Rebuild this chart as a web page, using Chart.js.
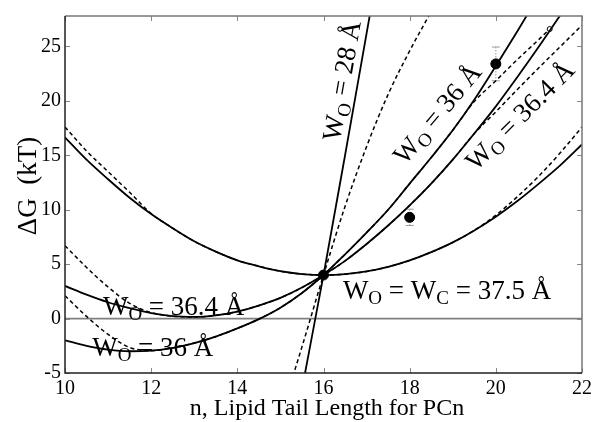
<!DOCTYPE html>
<html lang="en">
<head>
<meta charset="UTF-8">
<title>Free energy vs lipid tail length</title>
<script src="https://cdn.jsdelivr.net/npm/chart.js"></script>
<style>
    body { margin: 0; background: #fff; }
    #wrap { width: 597px; height: 422px; }
</style>
</head>
<body>
<div id="wrap"><canvas id="chart" width="597" height="422"></canvas></div>
<script>
// tail length grid (n) shared by most curves
const xFull = [10, 10.5, 11, 11.5, 12, 12.5, 13, 13.5, 14, 14.5, 15, 15.5, 16, 16.5, 17, 17.5, 18, 18.5, 19, 19.5, 20, 20.5, 21, 21.5, 22];

// W_O = W_C = 37.5 A
const wc375Solid = [16.65, 14.6, 12.8, 11.1, 9.6, 8.3, 7.1, 6.15, 5.35, 4.8, 4.35, 4.09, 4.0, 4.08, 4.33, 4.75, 5.34, 6.1, 7.0, 8.1, 9.36, 10.8, 12.4, 14.1, 16.0];
const wc375Dash  = [17.6, 15.4, 13.5, 11.6, 9.65, 8.3, 7.1, 6.15, 5.35, 4.8, 4.35, 4.09, 4.0, 4.08, 4.33, 4.75, 5.34, 6.1, 7.0, 8.1, 9.5, 11.2, 13.1, 15.25, 17.6];

// W_O = 36.4 A
const wo364Solid = [3.0, 2.2, 1.5, 0.95, 0.5, 0.22, 0.15, 0.3, 0.65, 1.2, 1.9, 2.85, 4.0, 5.3, 6.85, 8.55, 10.4, 12.4, 14.6, 17.0, 19.5, 22.2, 25.0, 27.9, 30.8];
const wo364Dash  = [6.7, 4.7, 2.9, 1.4, 0.55, 0.22, 0.15, 0.3, 0.65, 1.2, 1.9, 2.85, 4.0, 5.3, 6.85, 8.55, 10.4, 12.4, 14.6, 17.0, 19.0, 21.05, 23.05, 25.0, 26.95];

// W_O = 36 A
const wo36Solid = [-2.0, -2.5, -2.85, -3.0, -2.95, -2.7, -2.25, -1.65, -0.9, -0.05, 1.0, 2.35, 4.0, 5.9, 7.9, 10.0, 12.4, 14.8, 17.3, 20.1, 23.2, 26.4, 29.7, 33.0, 36.3];
const xWo36Dash = [10, 10.5, 11, 11.5, 12, 12.5, 13, 13.5, 14, 14.5, 15, 15.5, 16, 16.5, 17, 17.5, 18, 18.5, 19, 19.5, 20, 20.5, 21, 21.25];
const wo36Dash  = [2.1, 0.2, -1.45, -2.65, -2.95, -2.7, -2.25, -1.65, -0.9, -0.05, 1.0, 2.35, 4.0, 5.9, 7.9, 10.0, 12.4, 14.8, 17.3, 19.95, 21.85, 23.8, 25.65, 26.6];

// W_O = 28 A
const xWo28 = [15.5, 16, 16.5, 17, 17.5];
const wo28Solid = [-6.5, 4.0, 15.0, 26.2, 37.4];
const xWo28Dash = [15, 15.5, 16, 16.5, 17, 17.5, 18, 18.5];
const wo28Dash  = [-9.0, -2.6, 4.0, 10.3, 15.8, 20.6, 24.6, 28.2];

// measured points
const expN   = [16, 18, 20];
const expG   = [4.0, 9.3, 23.4];
const expErr = [0, 0.75, 1.55];

const xTicks = [10, 12, 14, 16, 18, 20, 22];
const yTicks = [-5, 0, 5, 10, 15, 20, 25];

const SERIF = '"Liberation Serif", "Times New Roman", serif';

// curve labels: anchor (data coords of the W baseline start), rotation in degrees
const labelDefs = [
    { at: [16.45, 1.84],  angle: 0,   parts: [['W'], ['O', 1], [' = W'], ['C', 1], [' = 37.5 Å']] },
    { at: [10.88, 0.36],  angle: 0,   parts: [['W'], ['O', 1], [' = 36.4 Å']] },
    { at: [10.63, -3.41], angle: 0,   parts: [['W'], ['O', 1], [' = 36 Å']] },
    { at: [16.38, 16.23], angle: -80, parts: [['W'], ['O', 1], [' = 28 Å']] },
    { at: [17.89, 14.05], angle: -50, parts: [['W'], ['O', 1], [' = 36 Å']] },
    { at: [19.54, 13.5],  angle: -45, parts: [['W'], ['O', 1], [' = 36.4 Å']] }
];

function curve(xs, ys, dashed, extra) {
    return Object.assign({
        data: xs.map((x, i) => ({ x: x, y: ys[i] })),
        showLine: true,
        borderColor: '#000',
        borderWidth: dashed ? 1.5 : 1.8,
        borderDash: dashed ? [4, 3] : [],
        pointRadius: 0,
        cubicInterpolationMode: 'monotone',
        fill: false
    }, extra || {});
}

const decorations = {
    id: 'decorations',
    beforeDatasetsDraw(chart) {
        const ctx = chart.ctx, a = chart.chartArea;
        const xs = chart.scales.x, ys = chart.scales.y;
        ctx.save();
        // zero line
        ctx.strokeStyle = '#808080';
        ctx.lineWidth = 1.8;
        ctx.beginPath();
        ctx.moveTo(a.left, ys.getPixelForValue(0));
        ctx.lineTo(a.right, ys.getPixelForValue(0));
        ctx.stroke();
        // error bars
        ctx.strokeStyle = '#999';
        ctx.lineWidth = 1;
        expN.forEach((n, i) => {
            if (!expErr[i]) return;
            const px = xs.getPixelForValue(n);
            const top = ys.getPixelForValue(expG[i] + expErr[i]);
            const bot = ys.getPixelForValue(expG[i] - expErr[i]);
            ctx.setLineDash([1.5, 1.5]);
            ctx.beginPath(); ctx.moveTo(px, top); ctx.lineTo(px, bot); ctx.stroke();
            ctx.setLineDash([]);
            ctx.beginPath();
            ctx.moveTo(px - 4, top); ctx.lineTo(px + 4, top);
            ctx.moveTo(px - 4, bot); ctx.lineTo(px + 4, bot);
            ctx.stroke();
        });
        ctx.restore();
    },
    afterDatasetsDraw(chart) {
        const ctx = chart.ctx, a = chart.chartArea;
        const xs = chart.scales.x, ys = chart.scales.y;
        ctx.save();
        // inner ticks
        ctx.strokeStyle = '#888';
        ctx.lineWidth = 1;
        ctx.beginPath();
        xTicks.forEach(v => {
            const p = Math.round(xs.getPixelForValue(v)) + 0.5;
            ctx.moveTo(p, a.bottom); ctx.lineTo(p, a.bottom - 5);
            ctx.moveTo(p, a.top); ctx.lineTo(p, a.top + 5);
        });
        yTicks.forEach(v => {
            const p = Math.round(ys.getPixelForValue(v)) + 0.5;
            ctx.moveTo(a.left, p); ctx.lineTo(a.left + 5, p);
            ctx.moveTo(a.right, p); ctx.lineTo(a.right - 5, p);
        });
        ctx.stroke();
        // box
        ctx.lineWidth = 1.5;
        ctx.strokeStyle = '#777';
        ctx.beginPath();
        ctx.moveTo(a.left, a.top); ctx.lineTo(a.right, a.top); ctx.lineTo(a.right, a.bottom);
        ctx.stroke();
        ctx.strokeStyle = '#222';
        ctx.beginPath();
        ctx.moveTo(a.left, a.top); ctx.lineTo(a.left, a.bottom); ctx.lineTo(a.right, a.bottom);
        ctx.stroke();

        // curve labels
        ctx.fillStyle = '#000';
        ctx.textBaseline = 'alphabetic';
        ctx.textAlign = 'left';
        labelDefs.forEach(l => {
            ctx.save();
            ctx.translate(xs.getPixelForValue(l.at[0]), ys.getPixelForValue(l.at[1]));
            ctx.rotate(l.angle * Math.PI / 180);
            let cx = 0;
            l.parts.forEach(p => {
                ctx.font = (p[1] ? 19 : 27) + 'px ' + SERIF;
                ctx.fillText(p[0], cx, p[1] ? 5 : 0);
                cx += ctx.measureText(p[0]).width;
            });
            ctx.restore();
        });

        // axis titles
        ctx.font = '27px ' + SERIF;
        ctx.textAlign = 'center';
        ctx.save();
        ctx.translate(36, 186);
        ctx.rotate(-Math.PI / 2);
        ctx.fillText('ΔG  (kT)', 0, 0);
        ctx.restore();
        ctx.font = '24px ' + SERIF;
        ctx.fillText('n, Lipid Tail Length for PCn', 327, 415);
        ctx.restore();
    }
};

const lastDash36 = xWo36Dash.length - 1;

new Chart(document.getElementById('chart'), {
    type: 'scatter',
    data: {
        datasets: [
            { data: expN.map((n, i) => ({ x: n, y: expG[i] })), pointRadius: 5, pointBackgroundColor: '#000', pointBorderColor: '#000', showLine: false },
            curve(xFull, wc375Solid, false),
            curve(xFull, wo364Solid, false),
            curve(xFull, wo36Solid, false),
            curve(xWo28, wo28Solid, false),
            curve(xFull, wc375Dash, true),
            curve(xFull, wo364Dash, true),
            curve(xWo36Dash, wo36Dash, true, {
                pointRadius: c => c.dataIndex === lastDash36 ? 2.5 : 0,
                pointBackgroundColor: '#fff',
                pointBorderColor: '#000',
                pointBorderWidth: 1
            }),
            curve(xWo28Dash, wo28Dash, true)
        ]
    },
    options: {
        responsive: false,
        animation: false,
        layout: { padding: { top: 9, right: 15, left: 0, bottom: 0 } },
        plugins: { legend: { display: false }, tooltip: { enabled: false } },
        scales: {
            x: {
                type: 'linear', min: 10, max: 22,
                grid: { display: false, drawTicks: false },
                border: { display: false },
                ticks: { color: '#000', padding: 4, font: { family: SERIF, size: 20 } },
                afterBuildTicks: s => { s.ticks = xTicks.map(v => ({ value: v })); },
                afterFit: s => { s.height = 49; }
            },
            y: {
                type: 'linear', min: -5, max: 27.8,
                grid: { display: false, drawTicks: false },
                border: { display: false },
                ticks: { color: '#000', padding: 4, font: { family: SERIF, size: 20 } },
                afterBuildTicks: s => { s.ticks = yTicks.map(v => ({ value: v })); },
                afterFit: s => { s.width = 65; }
            }
        }
    },
    plugins: [decorations]
});
</script>
</body>
</html>
